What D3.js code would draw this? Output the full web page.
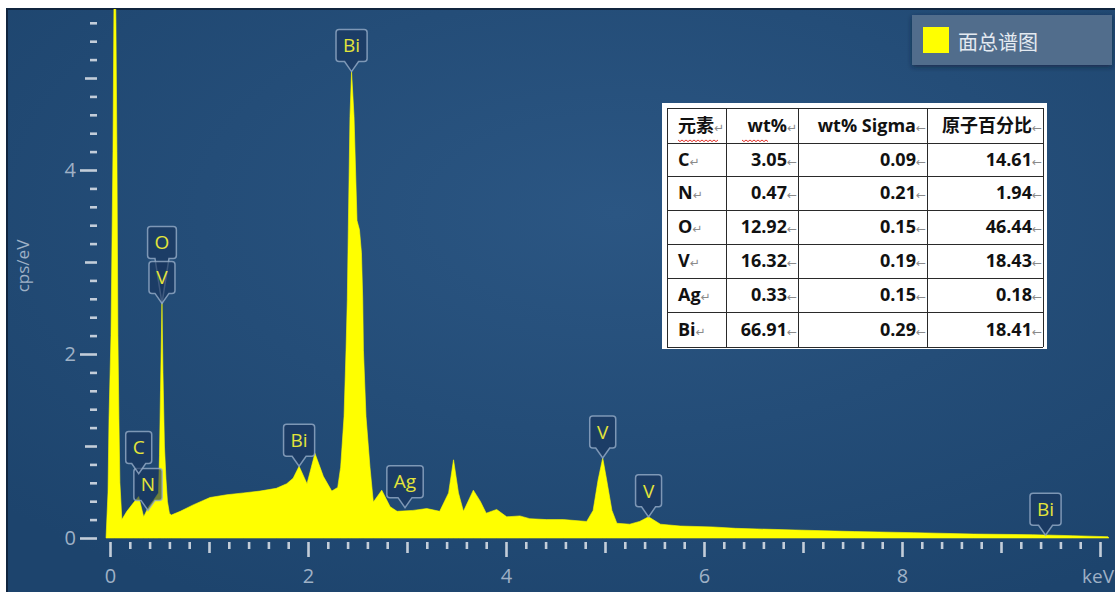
<!DOCTYPE html>
<html>
<head>
<meta charset="utf-8">
<script src="https://cdn.jsdelivr.net/npm/d3@7"></script>
<style>
  html, body { margin: 0; padding: 0; background: #ffffff; }
  svg { display: block; }
</style>
</head>
<body>
<svg id="chart" width="1115" height="592"></svg>
<script>
// ---- EDS sum spectrum (energy in keV, intensity in cps/eV) ----
const energyKeV = [
  -0.04, -0.02, -0.01, 0.01, 0.03, 0.04, 0.045, 0.05, 0.06, 0.07, 0.08, 0.09, 0.10, 0.12,
  0.17, 0.235, 0.29, 0.34, 0.39, 0.44, 0.49,
  0.50, 0.51, 0.525, 0.535, 0.55, 0.565, 0.58, 0.60, 0.62,
  0.71, 0.84, 1.01, 1.18, 1.35, 1.515, 1.68, 1.785, 1.85, 1.91, 1.99, 2.07, 2.155, 2.24, 2.30,
  2.33, 2.364, 2.384, 2.397, 2.407, 2.424, 2.44, 2.465, 2.495, 2.52, 2.54, 2.553, 2.56, 2.586, 2.626, 2.66,
  2.745, 2.83, 2.90, 3.06, 3.20, 3.33, 3.42, 3.47, 3.52, 3.57, 3.67, 3.74, 3.80, 3.906,
  4.007, 4.14, 4.24, 4.41, 4.58, 4.815, 4.88, 4.93, 4.977, 5.017, 5.07, 5.12, 5.25, 5.35, 5.44, 5.56,
  5.76, 6.09, 6.32, 6.92, 7.52, 8.12, 8.72, 9.32, 9.72, 10.08, 10.09
];
const countsCps = [
  0.00, 0.50, 1.30, 2.20, 4.20, 5.80, 6.50, 6.50, 5.60, 4.20, 2.20, 1.30, 0.60, 0.20,
  0.29, 0.38, 0.45, 0.23, 0.34, 0.41, 0.49,
  0.90, 1.60, 2.55, 1.80, 1.00, 0.65, 0.40, 0.27, 0.25,
  0.29, 0.36, 0.44, 0.47, 0.49, 0.51, 0.54, 0.59, 0.65, 0.78, 0.59, 0.92, 0.67, 0.51, 0.55,
  0.77, 1.32, 2.04, 2.59, 3.35, 4.58, 5.07, 4.58, 3.45, 3.35, 3.10, 2.59, 2.04, 1.32, 0.77, 0.39,
  0.52, 0.34, 0.29, 0.30, 0.32, 0.29, 0.49, 0.85, 0.49, 0.29, 0.52, 0.40, 0.27, 0.31,
  0.23, 0.24, 0.21, 0.20, 0.20, 0.18, 0.30, 0.63, 0.87, 0.63, 0.30, 0.16, 0.15, 0.18, 0.23, 0.15,
  0.13, 0.12, 0.105, 0.087, 0.07, 0.058, 0.043, 0.036, 0.025, 0.014, 0.00
];

// ---- peak identification markers ----
const peakElements   = ["C", "N", "V", "O", "Bi", "Bi", "Ag", "V", "V", "Bi"];
const peakEnergies   = [0.29, 0.384, 0.525, 0.525, 1.91, 2.44, 2.98, 4.977, 5.44, 9.45];
const peakMarkerCps  = [0.70, 0.30, 2.55, 2.55, 0.78, 5.07, 0.33, 0.87, 0.23, 0.03];

// ---- quantification table ----
const tableHeaders   = ["元素", "wt%", "wt% Sigma", "原子百分比"];
const tableElements  = ["C", "N", "O", "V", "Ag", "Bi"];
const tableWt        = ["3.05", "0.47", "12.92", "16.32", "0.33", "66.91"];
const tableWtSigma   = ["0.09", "0.21", "0.15", "0.19", "0.15", "0.29"];
const tableAtomic    = ["14.61", "1.94", "46.44", "18.43", "0.18", "18.41"];

// ---- axes ----
const xLabelTicks = [0, 2, 4, 6, 8];
const yLabelTicks = [0, 2, 4];
const xUnit = "keV";
const yUnit = "cps/eV";
const legendLabel = "面总谱图";

const svg = d3.select("#chart");
const W = 1115, H = 592;

const x = d3.scaleLinear().domain([0, 10]).range([110, 1100]);
const y = d3.scaleLinear().domain([0, 5.75]).range([538, 9]);

// background panel
const defs = svg.append("defs");
const bg = defs.append("radialGradient").attr("id", "bgGrad")
  .attr("cx", "55%").attr("cy", "35%").attr("r", "75%");
bg.append("stop").attr("offset", "0%").attr("stop-color", "#2b5683");
bg.append("stop").attr("offset", "100%").attr("stop-color", "#1d446d");

defs.append("clipPath").attr("id", "plotClip")
  .append("rect").attr("x", 7).attr("y", 9).attr("width", W - 7).attr("height", y(0) - 9 + 1);

const shadow = defs.append("filter").attr("id", "legendShadow")
  .attr("x", "-10%").attr("y", "-20%").attr("width", "120%").attr("height", "160%");
shadow.append("feDropShadow").attr("dx", 0).attr("dy", 2).attr("stdDeviation", 2.5)
  .attr("flood-color", "#0a1a30").attr("flood-opacity", 0.6);

svg.append("rect").attr("x", 7).attr("y", 9).attr("width", W - 7).attr("height", H - 9)
  .attr("fill", "url(#bgGrad)");
svg.append("path").attr("d", `M7,${H} V9 H${W}`)
  .attr("fill", "none").attr("stroke", "#10253f").attr("stroke-width", 2);

const tickColor = "#c3cdd9";
const labelColor = "#9fb1c6";
const tickFont = "'Open Sans', 'Noto Sans', sans-serif";

// y axis: ticks every 0.2, longer at every unit, longest at labelled values
const yTicks = d3.range(0, 29).map(i => +(i / 5).toFixed(1));
const yLen = d => yLabelTicks.includes(d) ? 17 : (Number.isInteger(d) ? 12 : 7);
const yAxis = d3.axisLeft(y).tickValues(yTicks).tickSize(0)
  .tickFormat(d => yLabelTicks.includes(d) ? d : "");
const gy = svg.append("g").attr("transform", "translate(97,0)").call(yAxis);
gy.select(".domain").remove();
gy.selectAll(".tick line").attr("x2", d => -yLen(d))
  .attr("stroke", tickColor).attr("stroke-width", 2.6);
gy.selectAll(".tick text").attr("x", -21).attr("fill", labelColor)
  .style("font-family", tickFont).style("font-size", "20px");

// x axis
const xTicks = d3.range(0, 51).map(i => +(i / 5).toFixed(1));
const xLen = d => (xLabelTicks.includes(d) || d === 10) ? 15 : (Number.isInteger(d) ? 11 : 7);
const xAxis = d3.axisBottom(x).tickValues(xTicks).tickSize(0)
  .tickFormat(d => xLabelTicks.includes(d) ? d : "");
const gx = svg.append("g").attr("transform", "translate(0,542)").call(xAxis);
gx.select(".domain").remove();
gx.selectAll(".tick line").attr("y2", d => xLen(d))
  .attr("stroke", tickColor).attr("stroke-width", 2.6);
gx.selectAll(".tick text").attr("y", 27).attr("dy", "0.71em").attr("fill", labelColor)
  .style("font-family", tickFont).style("font-size", "20px");

svg.append("text").attr("x", 1114).attr("y", 583).attr("text-anchor", "end")
  .attr("fill", labelColor).style("font-family", tickFont).style("font-size", "19px")
  .text(xUnit);

svg.append("text").attr("transform", "translate(29,266) rotate(-90)")
  .attr("text-anchor", "middle").attr("fill", labelColor)
  .style("font-family", tickFont).style("font-size", "17px").text(yUnit);

// spectrum area
const spectrum = energyKeV.map((e, i) => [e, countsCps[i]]);
const area = d3.area().x(d => x(d[0])).y0(y(0)).y1(d => y(d[1]));
svg.append("g").attr("clip-path", "url(#plotClip)")
  .append("path").datum(spectrum).attr("d", area)
  .attr("fill", "#ffff00").attr("stroke", "#ffff00").attr("stroke-width", 0.6);

// peak markers: callout boxes with a pointer at the line energy
const markerFont = "'Open Sans', 'Noto Sans', sans-serif";
const boxH = 32, pointerH = 10, r = 3;
const measure = svg.append("text").style("font-family", markerFont).style("font-size", "19px");
const placed = [];
const markers = peakElements.map((el, i) => {
  measure.text(el);
  const w = Math.max(26, measure.node().getComputedTextLength() + 14);
  const tx = x(peakEnergies[i]), ty = y(peakMarkerCps[i]);
  let bottom = ty - pointerH;
  // lift the box above any overlapping box already placed
  let moved = true;
  while (moved) {
    moved = false;
    for (const p of placed) {
      const overlapX = tx - w / 2 < p.x1 && tx + w / 2 > p.x0;
      const overlapY = bottom - boxH < p.y1 && bottom > p.y0;
      if (overlapX && overlapY) { bottom = p.y0 - 3; moved = true; }
    }
  }
  const m = { el, w, tx, ty, bottom, top: bottom - boxH,
              x0: tx - w / 2, x1: tx + w / 2, y0: bottom - boxH, y1: bottom };
  placed.push(m);
  return m;
});
measure.remove();

const markerG = svg.append("g");
markers.slice().reverse().forEach(m => {
  const L = m.x0, R = m.x1, T = m.top, B = m.bottom, tx = m.tx;
  const d = `M${L + r},${T} H${R - r} Q${R},${T} ${R},${T + r} V${B - r} Q${R},${B} ${R - r},${B}` +
            ` H${tx + 7} L${tx},${m.ty} L${tx - 7},${B} H${L + r} Q${L},${B} ${L},${B - r}` +
            ` V${T + r} Q${L},${T} ${L + r},${T} Z`;
  const g = markerG.append("g");
  g.append("path").attr("d", d)
    .attr("fill", "rgba(24,52,92,0.62)").attr("stroke", "rgba(150,172,200,0.8)")
    .attr("stroke-width", 1.5);
  g.append("text").attr("x", tx).attr("y", (T + B) / 2).attr("dy", "0.36em")
    .attr("text-anchor", "middle").attr("fill", "#e4e43a")
    .style("font-family", markerFont).style("font-size", "19px").text(m.el);
});

// legend
const lg = svg.append("g");
lg.append("rect").attr("x", 912).attr("y", 15).attr("width", 200).attr("height", 50)
  .attr("fill", "#516d8c").attr("filter", "url(#legendShadow)");
lg.append("rect").attr("x", 923).attr("y", 27).attr("width", 26).attr("height", 26)
  .attr("fill", "#ffff00");
lg.append("text").attr("x", 958).attr("y", 50).attr("fill", "#e4eaf1")
  .style("font-family", "'Noto Sans CJK SC', sans-serif").style("font-size", "20px")
  .text(legendLabel);

// quantification table
const tbl = svg.append("g");
const colX = [667, 726, 798, 927, 1043];
const rowY = [108, 143, 176, 210, 244, 278, 312, 347];
const tFont = "'Open Sans', 'Noto Sans CJK SC', sans-serif";
tbl.append("rect").attr("x", 662).attr("y", 103).attr("width", 385).attr("height", 246)
  .attr("fill", "#ffffff");
rowY.slice(0, rowY.length).forEach(v => {
  tbl.append("line").attr("x1", colX[0]).attr("x2", colX[4]).attr("y1", v + 0.5).attr("y2", v + 0.5)
    .attr("stroke", "#2a2a2a").attr("stroke-width", 1);
});
colX.forEach(v => {
  tbl.append("line").attr("x1", v + 0.5).attr("x2", v + 0.5).attr("y1", rowY[0]).attr("y2", rowY[rowY.length - 1])
    .attr("stroke", "#2a2a2a").attr("stroke-width", 1);
});

function cell(col, row, txt, mark, anchor) {
  const yc = (rowY[row] + rowY[row + 1]) / 2;
  const t = tbl.append("text").attr("y", yc).attr("dy", "0.36em")
    .style("font-family", tFont).style("font-size", "18px").attr("fill", "#111");
  if (anchor === "start") {
    t.attr("x", colX[col] + 11).attr("text-anchor", "start");
  } else {
    t.attr("x", colX[col + 1] - 1).attr("text-anchor", "end");
  }
  t.append("tspan").style("font-weight", "bold").text(txt);
  t.append("tspan").style("font-size", "12px").attr("fill", "#8a8a8a")
    .style("font-family", "'DejaVu Sans', sans-serif").text(mark);
}

cell(0, 0, tableHeaders[0], "↵", "start");
cell(1, 0, tableHeaders[1], "↵", "end");
cell(2, 0, tableHeaders[2], "←", "end");
cell(3, 0, tableHeaders[3], "←", "end");
tableElements.forEach((el, i) => {
  cell(0, i + 1, el, "↵", "start");
  cell(1, i + 1, tableWt[i], "←", "end");
  cell(2, i + 1, tableWtSigma[i], "←", "end");
  cell(3, i + 1, tableAtomic[i], "←", "end");
});

// red wavy proofing underlines in the header row
function wavy(x0, x1, yy) {
  let d = `M${x0},${yy}`;
  for (let xx = x0, k = 0; xx < x1; xx += 2, k++) {
    d += ` L${xx + 2},${yy + (k % 2 === 0 ? 1.6 : 0)}`;
  }
  tbl.append("path").attr("d", d).attr("fill", "none")
    .attr("stroke", "#e0302a").attr("stroke-width", 1);
}
wavy(678, 718, 140);
wavy(742, 768, 140);
</script>
</body>
</html>
